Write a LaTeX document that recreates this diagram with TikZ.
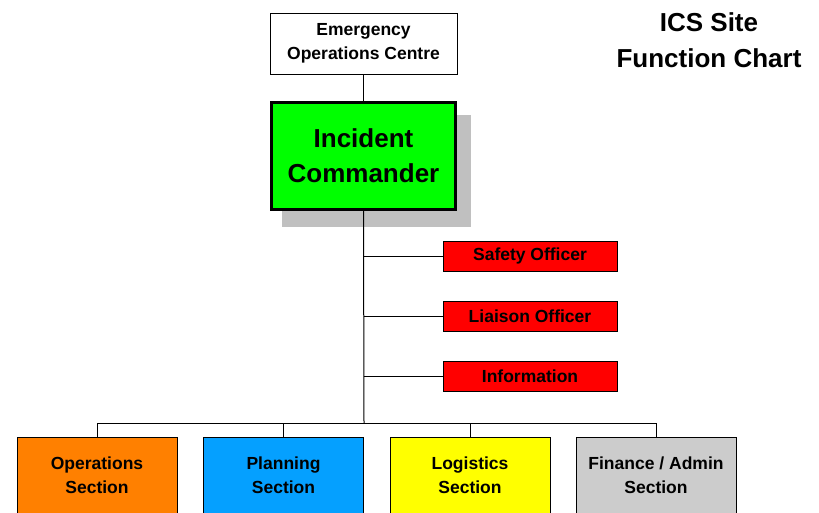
\documentclass[tikz,border=0pt]{standalone}
\usepackage{fontspec}
\setmainfont{Liberation Sans}
\definecolor{icgreen}{HTML}{00FF00}
\definecolor{ored}{HTML}{FF0000}
\definecolor{sorange}{HTML}{FF8000}
\definecolor{sblue}{HTML}{05A0FF}
\definecolor{syellow}{HTML}{FFFF00}
\definecolor{sgray}{HTML}{CCCCCC}
\definecolor{shadowgray}{HTML}{C0C0C0}
\tikzset{
  box/.style={draw=black, line width=1pt, inner sep=0pt, align=center,
    font=\fontsize{17.5}{24}\selectfont\bfseries},
  officer/.style={box, fill=ored, minimum width=174pt, minimum height=30pt},
  section/.style={box, minimum width=160pt, anchor=north, inner ysep=0pt,
    text height=56pt, text depth=50pt},
  conn/.style={draw=black, line width=1pt},
}
\begin{document}
\begin{tikzpicture}[x=1pt,y=-1pt]
\clip (0,0) rectangle (819,512);
\fill[white] (0,0) rectangle (819,512);
% title
\node[font=\fontsize{26}{36}\selectfont\bfseries, align=center] (title) at (709,40) {ICS Site\\Function Chart};
% EOC
\node[box, fill=white, minimum width=187pt, minimum height=61pt] (eoc) at (363.5,43.5) {Emergency\\Operations Centre};
% shadow of IC
\fill[shadowgray] (282,115) rectangle (471,227);
% IC
\node[box, fill=icgreen, line width=3pt, minimum width=184pt, minimum height=107pt,
  font=\fontsize{26}{35}\selectfont\bfseries] (ic) at (363.5,156) {Incident\\Commander};
% officers
\node[officer] (safety) at (530,256) {Safety Officer};
\node[officer] (liaison) at (530,316) {Liaison Officer};
\node[officer] (info) at (530,376) {Information};
% sections
\node[section, fill=sorange] (ops) at (97,437) {Operations\\Section};
\node[section, fill=sblue] (plan) at (283.5,437) {Planning\\Section};
\node[section, fill=syellow] (log) at (470,437) {Logistics\\Section};
\node[section, fill=sgray] (fin) at (656,437) {Finance / Admin\\Section};
% connectors
\coordinate (bus) at (364,423);
\draw[conn] (eoc.south) -- (ic.north);
\draw[conn] (ic.south) -- (bus);
\draw[conn] (ic.south |- safety.west) -- (safety.west);
\draw[conn] (ic.south |- liaison.west) -- (liaison.west);
\draw[conn] (ic.south |- info.west) -- (info.west);
\draw[conn] (ops.north) -- (ops.north |- bus) -- (fin.north |- bus) -- (fin.north);
\draw[conn] (plan.north) -- (plan.north |- bus);
\draw[conn] (log.north) -- (log.north |- bus);
\end{tikzpicture}
\end{document}
